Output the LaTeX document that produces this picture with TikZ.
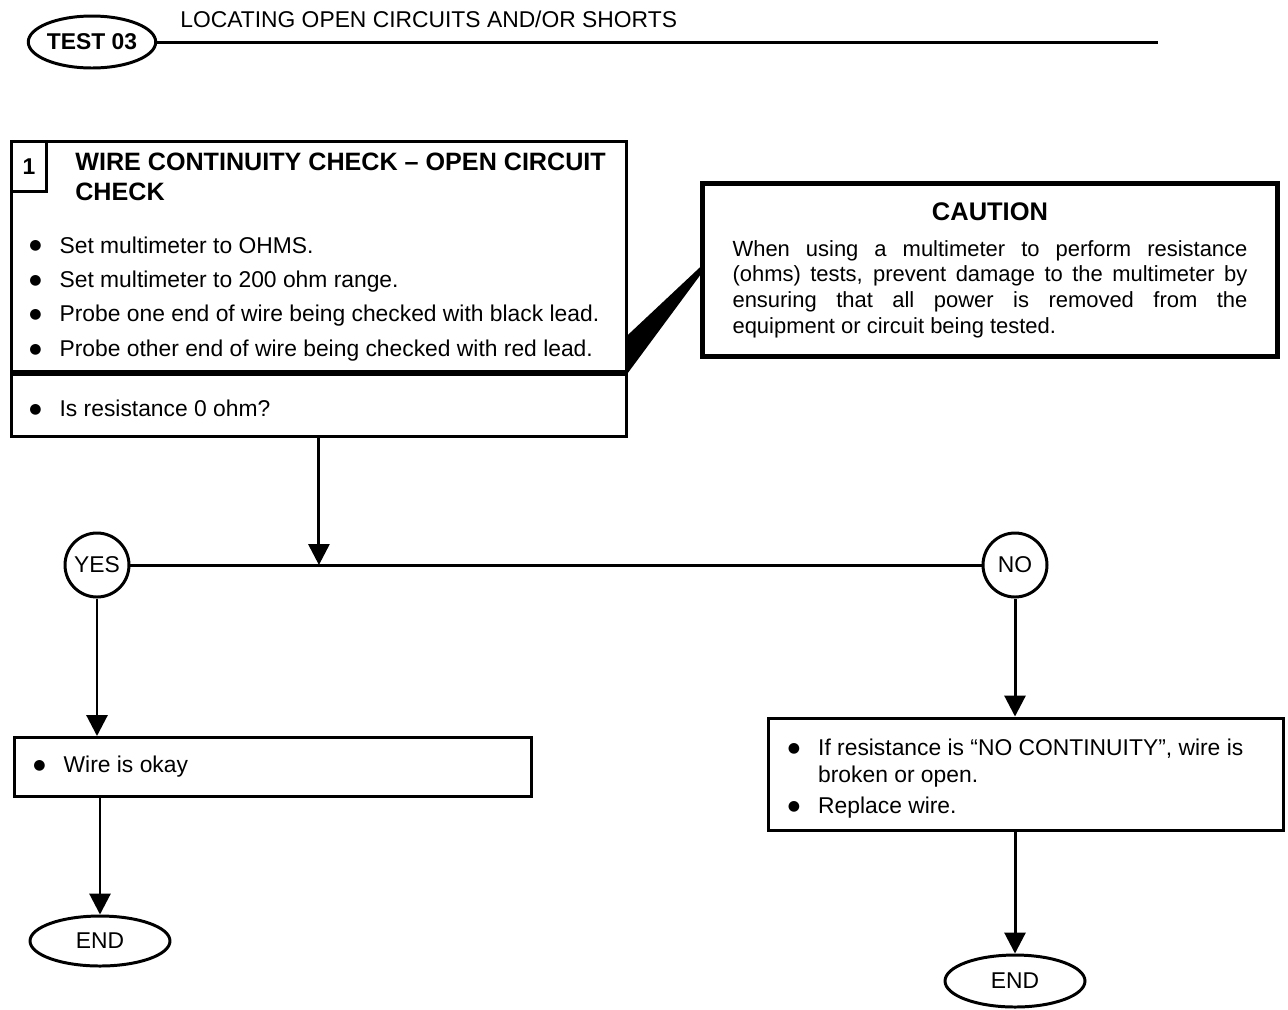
\documentclass[tikz,border=0pt]{standalone}
\usepackage{fontspec}
\setmainfont{Liberation Sans}
\newfontfamily\dotfont{DejaVu Sans}
\usetikzlibrary{positioning,arrows.meta,shapes.geometric,calc}
\setlength{\parindent}{0pt}
\newcommand{\bul}{\raisebox{1.8pt}{\dotfont\fontsize{8}{8}\selectfont ●}}

\begin{document}
\begin{tikzpicture}[
  x=0.02cm, y=-0.02cm,
  font=\fontsize{13}{15.6}\selectfont,
  >={Triangle[length=4.2mm,width=4.2mm]},
  line/.style={line width=1.7pt},
  arrow/.style={line, ->},
  frame/.style={draw, line width=1.7pt, inner sep=0pt},
  oval/.style={
    ellipse, draw, line width=1.7pt, inner sep=0pt,
    minimum width=2.8cm, minimum height=1.0cm
  },
  answer/.style={circle, draw, line width=1.7pt, inner sep=0pt, minimum size=1.28cm},
  bullets/.style={anchor=west, inner sep=0pt, align=left},
  cbox/.style={
    draw, line width=2.6pt, text width=10.3cm, align=justify,
    minimum width=11.5cm, minimum height=3.46cm, inner xsep=0.6cm,
    font=\fontsize{12.5}{14.6}\selectfont
  }
]
\useasboundingbox (0,0) rectangle (1288,1009);

% ---------- Header: test label and title rule ----------
\node[oval, minimum width=2.2cm, minimum height=1.04cm,
      font=\fontsize{13}{15}\selectfont\bfseries] (test) at (92,42) {TEST 03};
\node[anchor=base west, inner sep=0pt] (title) at (180,27) {LOCATING OPEN CIRCUITS AND/OR SHORTS};
\coordinate (ruleend) at (1158,42);
\draw[line] (test) -- (ruleend);

% ---------- Step 1: continuity check ----------
\node[frame, anchor=north west, minimum width=12.3cm, minimum height=4.6cm] (chk) at (10,140) {};
\node[frame, anchor=north west, minimum width=12.3cm, minimum height=1.24cm] (ask) at (chk.south west) {};
\node[frame, anchor=north west, minimum width=0.7cm, minimum height=1.0cm,
      font=\fontsize{13}{15}\selectfont\bfseries] (num) at (chk.north west) {1};
\node[anchor=base west, align=left, inner sep=0pt,
      font=\fontsize{14.3}{17}\selectfont\bfseries] (head) at (75,200)
  {WIRE CONTINUITY CHECK -- OPEN CIRCUIT\\CHECK};

\node[bullets, anchor=base west] (steps) at (29,253) {
  \begin{tabular}[t]{@{}l@{\hspace{0.36cm}}l@{}}
    \bul & Set multimeter to OHMS.\\[4pt]
    \bul & Set multimeter to 200 ohm range.\\[4pt]
    \bul & Probe one end of wire being checked with black lead.\\[4pt]
    \bul & Probe other end of wire being checked with red lead.\\
  \end{tabular}
};
\node[bullets] (q) at ([xshift=0.38cm,yshift=-0.06cm]ask.west) {\bul\hspace{0.36cm}Is resistance 0 ohm?};

% ---------- Caution note with its pointer ----------
\node[cbox] (caution) at (990,270) {%
  {\centering\bfseries\fontsize{14.5}{16}\selectfont CAUTION\par}\vspace{6pt}%
  When using a multimeter to perform resistance\linebreak
  (ohms) tests, prevent damage to the multimeter by\linebreak
  ensuring that all power is removed from the\linebreak
  equipment or circuit being tested.};
\fill (chk.south east) -- ++(0,-38) -- ($(caution.west)+(0,-3)$) -- ($(caution.west)+(0,5)$) -- cycle;

% ---------- Decision ----------
\node[answer] (yes) at (97,565) {YES};
\node[answer] (no) at (1015,565) {NO};
\draw[line] (yes) -- (no);
\draw[arrow] (ask) -- (ask |- yes);

% ---------- YES branch ----------
\node[frame, minimum width=10.34cm, minimum height=1.18cm] (ok) at (273,767) {};
\node[bullets] (oktxt) at ([xshift=0.4cm]ok.west) {\bul\hspace{0.36cm}Wire is okay};
\node[oval] (endl) at (100,941) {END};
\draw[arrow] (yes) -- (yes |- ok.north);
\draw[arrow] (endl |- ok.south) -- (endl);

% ---------- NO branch ----------
\node[frame, minimum width=10.32cm, minimum height=2.24cm] (fix) at (1026,774) {};
\node[bullets] (fixtxt) at ([xshift=0.42cm,yshift=-0.1cm]fix.west) {
  \begin{tabular}{@{}l@{\hspace{0.36cm}}l@{}}
    \bul & If resistance is ``NO CONTINUITY'', wire is\\
         & broken or open.\\[2pt]
    \bul & Replace wire.\\
  \end{tabular}
};
\node[oval, minimum height=1.04cm] (endr) at (1015,981) {END};
\draw[arrow] (no) -- (no |- fix.north);
\draw[arrow] (endr |- fix.south) -- (endr);

\end{tikzpicture}
\end{document}
